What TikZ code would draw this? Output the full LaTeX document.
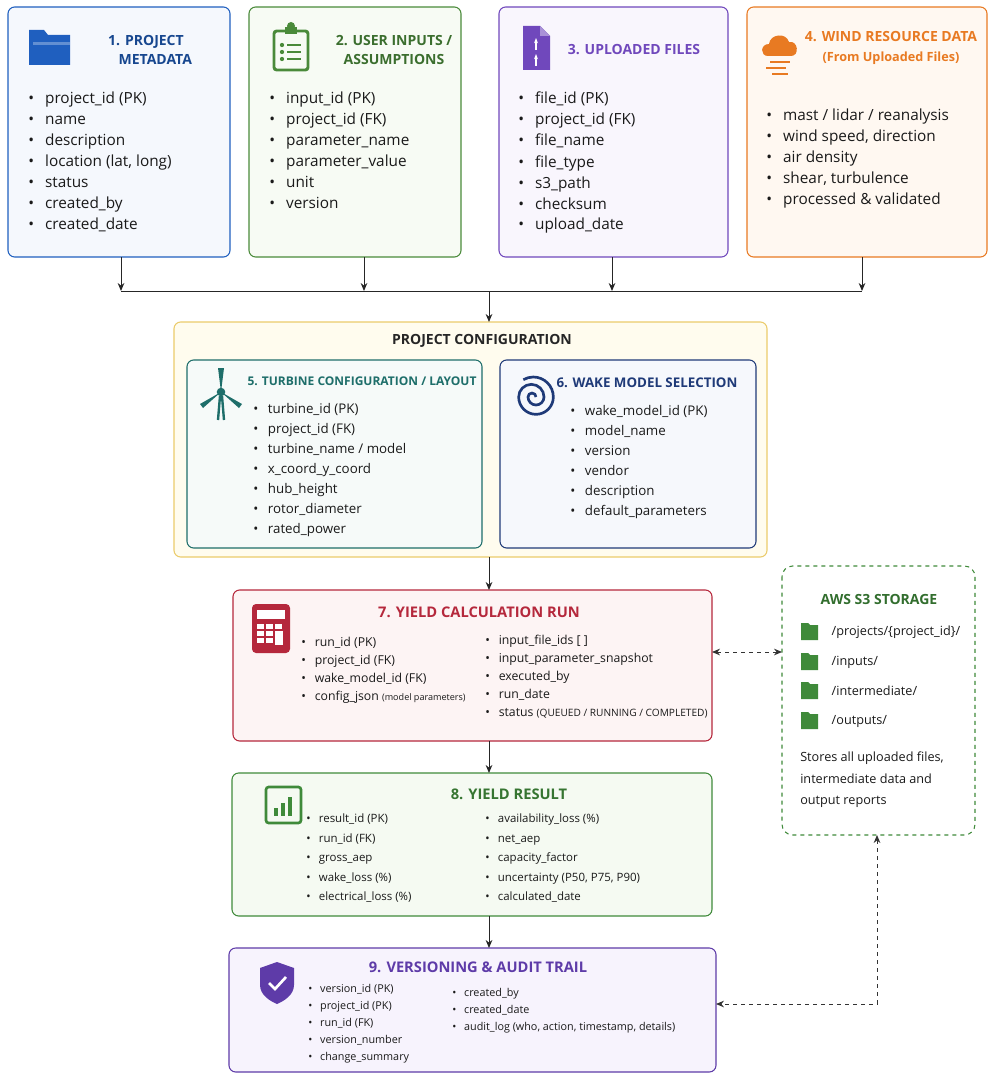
\documentclass[tikz,border=0pt]{standalone}
\usepackage{fontspec}
\setmainfont{Open Sans}
\usetikzlibrary{arrows.meta}
\definecolor{cblue}{HTML}{1F5FBF}\definecolor{cbluef}{HTML}{F5F8FD}
\definecolor{cgreen}{HTML}{4A8A3A}\definecolor{cgreenf}{HTML}{F7FBF4}
\definecolor{cpurp}{HTML}{7048BC}\definecolor{cpurpf}{HTML}{F9F6FD}
\definecolor{corange}{HTML}{E87A22}\definecolor{corangef}{HTML}{FFF8F1}
\definecolor{cyel}{HTML}{EBCB6A}\definecolor{cyelf}{HTML}{FFFCEE}
\definecolor{cteal}{HTML}{1E6E6A}\definecolor{ctealf}{HTML}{F6FAF9}
\definecolor{cnavy}{HTML}{1F3A78}\definecolor{cnavyf}{HTML}{F6F8FC}
\definecolor{cred}{HTML}{B5283C}\definecolor{credf}{HTML}{FDF4F4}
\definecolor{cg2}{HTML}{3F8A3A}\definecolor{cg2f}{HTML}{F5FAF2}
\definecolor{cp2}{HTML}{5E3BA8}\definecolor{cp2f}{HTML}{F7F3FD}
\definecolor{ctext}{HTML}{1A1A1A}
\newcommand{\bi}{\makebox[1.1em][l]{\textbullet}}
\tikzset{
 box/.style={draw=#1,fill=#1!4,rounded corners=5pt,line width=0.8pt},
 ttl/.style={font=\bfseries\fontsize{10.5}{14}\selectfont,text=#1,align=center},
 lst/.style={anchor=north west,align=left,text=ctext,font=\fontsize{11.5}{15.75}\selectfont,inner sep=0pt},
 lsts/.style={anchor=north west,align=left,text=ctext,font=\fontsize{9.2}{13.5}\selectfont,inner sep=0pt},
 conn/.style={-{Stealth[length=6pt,width=5pt]},line width=0.7pt,black!85},
 dconn/.style={{Stealth[length=6pt,width=5pt]}-{Stealth[length=6pt,width=5pt]},line width=0.7pt,dashed,black!80}
}
\begin{document}
\begin{tikzpicture}[x=0.75pt,y=-0.75pt]
\useasboundingbox (0,0) rectangle (992,1077);
% top boxes
\draw[box=cblue,fill=cbluef] (8,7) rectangle (230,257);
\draw[box=cgreen,fill=cgreenf] (249,7) rectangle (461,257);
\draw[box=cpurp,fill=cpurpf] (499,7) rectangle (728,257);
\draw[box=corange,fill=corangef] (747,7) rectangle (987,257);
\coordinate (b1) at (121,257);\coordinate (b2) at (364,257);\coordinate (b3) at (612,257);\coordinate (b4) at (862,257);
% icons
\fill[cblue] (29,30) -- (44,30) -- (48,35) -- (70,35) -- (70,65) -- (29,65) -- cycle;
\fill[cblue!70!white] (33,42) rectangle (70,65);
\fill[cblue] (32,45) rectangle (70,65);
\draw[cgreen,line width=2.2pt,rounded corners=2pt] (274,31) rectangle (308,70);
\fill[cgreen] (285,27) rectangle (297,34); \fill[cgreen] (291,26) circle (3pt);
\foreach \yy in {45,52,59}{\fill[cgreen] (282,\yy) circle (1.6pt); \draw[cgreen,line width=1.8pt] (287,\yy) -- (301,\yy);}
\fill[cpurp] (523,26) -- (540,26) -- (550,36) -- (550,70) -- (523,70) -- cycle;
\fill[cpurp!60!white] (540,26) -- (540,36) -- (550,36) -- cycle;
\draw[white,line width=1.3pt,-{Stealth[length=4pt]}] (536,50) -- (536,38);
\draw[white,line width=1.3pt,-{Stealth[length=4pt]}] (536,66) -- (536,54);
\fill[corange] (768,56) .. controls (760,56) and (760,44) .. (769,44) .. controls (770,34) and (786,32) .. (789,42) .. controls (798,40) and (800,56) .. (791,56) -- cycle;
\draw[corange,line width=1.3pt] (770,62) -- (790,62) (766,68) -- (786,68) (772,74) -- (788,74);
% titles
\node[ttl=cblue!75!black] (t1) at (146,50) {1. PROJECT\\\hspace*{14pt}METADATA};
\node[ttl=cgreen!80!black] (t2) at (394,50) {2. USER INPUTS /\\ASSUMPTIONS};
\node[ttl=cpurp] (t3) at (634,50) {3. UPLOADED FILES};
\node[ttl=corange] (t4) at (891,48) {4. WIND RESOURCE DATA\\[1pt]{\fontsize{9.5}{12}\selectfont(From Uploaded Files)}};
% lists
\node[lst] (l1) at (28,92) {\bi project\_id (PK)\\\bi name\\\bi description\\\bi location (lat, long)\\\bi status\\\bi created\_by\\\bi created\_date};
\node[lst] (l2) at (269,92) {\bi input\_id (PK)\\\bi project\_id (FK)\\\bi parameter\_name\\\bi parameter\_value\\\bi unit\\\bi version};
\node[lst] (l3) at (518,92) {\bi file\_id (PK)\\\bi project\_id (FK)\\\bi file\_name\\\bi file\_type\\\bi s3\_path\\\bi checksum\\\bi upload\_date};
\node[lst] (l4) at (766,109) {\bi mast / lidar / reanalysis\\\bi wind speed, direction\\\bi air density\\\bi shear, turbulence\\\bi processed \& validated};
% merge
\coordinate (m1) at (121,291);\coordinate (m4) at (862,291);\coordinate (mc) at (489,291);
\draw[line width=0.7pt,black!85] (m1) -- (m4);
\foreach \c in {b1,b2,b3,b4}{\draw[conn] (\c) -- (\c |- m1);}
% config
\draw[box=cyel,fill=cyelf] (174,322) rectangle (767,557);
\coordinate (cfgt) at (489,322);\coordinate (cfgb) at (489,557);
\draw[conn] (mc) -- (cfgt);
\node[font=\bfseries\fontsize{10.5}{13}\selectfont,text=black!85] (cfgtitle) at (482,341) {PROJECT CONFIGURATION};
\draw[box=cteal,fill=ctealf] (187,360) rectangle (482,548);
\draw[box=cnavy,fill=cnavyf] (500,360) rectangle (756,548);
\node[font=\bfseries\fontsize{9}{11}\selectfont,text=cteal] (t5) at (362,381) {5. TURBINE CONFIGURATION / LAYOUT};
\node[font=\bfseries\fontsize{10}{12}\selectfont,text=cnavy] (t6) at (647,383) {6. WAKE MODEL SELECTION};
% turbine icon
\draw[cteal,line width=1.8pt] (220,396) -- (218,420) (222,396) -- (224,420);
\fill[cteal] (221,392) circle (3.2pt);
\fill[cteal] (221,392) -- (218,368) -- (224,368) -- cycle;
\fill[cteal] (221,392) -- (200,404) -- (203,408) -- cycle;
\fill[cteal] (221,392) -- (242,404) -- (239,408) -- cycle;
% spiral icon
\draw[cnavy,line width=2pt] (536,397) arc (0:180:3pt) arc (180:360:6pt) arc (0:180:9.5pt) arc (180:360:13pt) arc (0:120:15pt);
\node[lst,font=\fontsize{10}{15}\selectfont] (l5) at (253,403) {\bi turbine\_id (PK)\\\bi project\_id (FK)\\\bi turbine\_name / model\\\bi x\_coord\_y\_coord\\\bi hub\_height\\\bi rotor\_diameter\\\bi rated\_power};
\node[lst,font=\fontsize{10}{15}\selectfont] (l6) at (570,405) {\bi wake\_model\_id (PK)\\\bi model\_name\\\bi version\\\bi vendor\\\bi description\\\bi default\_parameters};
% box 7
\draw[box=cred,fill=credf] (233,590) rectangle (712,741);
\coordinate (b7t) at (489,590);\coordinate (b7b) at (489,741);\coordinate (b7r) at (712,652);
\draw[conn] (cfgb) -- (b7t);
\fill[cred,rounded corners=3pt] (252,604) rectangle (290,653);
\fill[white] (257,610) rectangle (285,619);
\foreach \xx/\yy in {257/624,266/624,275/624,257/631,266/631,257/638,266/638}{\fill[white] (\xx,\yy) rectangle ++(7,5);}
\fill[white] (275,631) rectangle (283,645);
\node[ttl=cred,font=\bfseries\fontsize{11}{13}\selectfont] (t7) at (479,612) {7. YIELD CALCULATION RUN};
\node[lsts] (l7a) at (301,637) {\bi run\_id (PK)\\\bi project\_id (FK)\\\bi wake\_model\_id (FK)\\\bi config\_json {\fontsize{6.8}{8}\selectfont(model parameters)}};
\node[lsts] (l7b) at (485,635) {\bi input\_file\_ids [ ]\\\bi input\_parameter\_snapshot\\\bi executed\_by\\\bi run\_date\\\bi status {\fontsize{7.6}{8}\selectfont(QUEUED / RUNNING / COMPLETED)}};
% box 8
\draw[box=cg2,fill=cg2f] (232,773) rectangle (712,916);
\coordinate (b8t) at (489,773);\coordinate (b8b) at (489,916);
\draw[conn] (b7b) -- (b8t);
\draw[cg2,line width=2pt,rounded corners=2pt] (266,787) rectangle (301,823);
\foreach \xx/\h in {274/8,281/13,288/19}{\fill[cg2] (\xx,816) rectangle ++(4,-\h);}
\node[ttl=cg2!85!black,font=\bfseries\fontsize{11}{13}\selectfont] (t8) at (509,794) {8. YIELD RESULT};
\node[lsts,font=\fontsize{8.6}{14.6}\selectfont] (l8a) at (306,814) {\bi result\_id (PK)\\\bi run\_id (FK)\\\bi gross\_aep\\\bi wake\_loss (\%)\\\bi electrical\_loss (\%)};
\node[lsts,font=\fontsize{8.6}{14.6}\selectfont] (l8b) at (485,814) {\bi availability\_loss (\%)\\\bi net\_aep\\\bi capacity\_factor\\\bi uncertainty (P50, P75, P90)\\\bi calculated\_date};
% box 9
\draw[box=cp2,fill=cp2f] (229,948) rectangle (716,1072);
\coordinate (b9t) at (489,948);\coordinate (b9r) at (716,1004);
\draw[conn] (b8b) -- (b9t);
\fill[cp2] (277,962) -- (294,968) -- (294,985) .. controls (294,995) and (284,1001) .. (277,1004) .. controls (270,1001) and (260,995) .. (260,985) -- (260,968) -- cycle;
\draw[white,line width=2pt] (269,983) -- (275,989) -- (286,977);
\node[ttl=cp2,font=\bfseries\fontsize{11}{13}\selectfont] (t9) at (478,967) {9. VERSIONING \& AUDIT TRAIL};
\node[lsts,font=\fontsize{8.1}{12.8}\selectfont] (l9a) at (308,984) {\bi version\_id (PK)\\\bi project\_id (PK)\\\bi run\_id (FK)\\\bi version\_number\\\bi change\_summary};
\node[lsts,font=\fontsize{8.1}{12.8}\selectfont] (l9b) at (452,988) {\bi created\_by\\\bi created\_date\\\bi audit\_log (who, action, timestamp, details)};
% AWS
\draw[cg2,dashed,line width=0.8pt,rounded corners=8pt,fill=white] (782,566) rectangle (975,835);
\coordinate (awsl) at (782,652);\coordinate (awsb) at (877,835);\coordinate (corner) at (877,1004);
\node[font=\bfseries\fontsize{10.5}{13}\selectfont,text=cg2!80!black] (ta) at (879,599) {AWS S3 STORAGE};
\foreach \yy/\tx [count=\i] in {632/{/projects/\{project\_id\}/},662/{/inputs/},691/{/intermediate/},721/{/outputs/}}{
 \fill[cg2] (801,\yy-9) -- (808,\yy-9) -- (810,\yy-7) -- (818,\yy-7) -- (818,\yy+8) -- (801,\yy+8) -- cycle;
 \node[anchor=west,font=\fontsize{9.5}{12}\selectfont,text=ctext] (f\i) at (827,\yy) {\tx};}
\node[anchor=north west,align=left,font=\fontsize{9.5}{16}\selectfont,text=ctext,inner sep=0pt] (ad) at (800,752) {Stores all uploaded files,\\intermediate data and\\output reports};
\draw[dconn] (b7r) -- (awsl);
\draw[dconn] (awsb) -- (corner) -- (b9r);
\end{tikzpicture}
\end{document}
